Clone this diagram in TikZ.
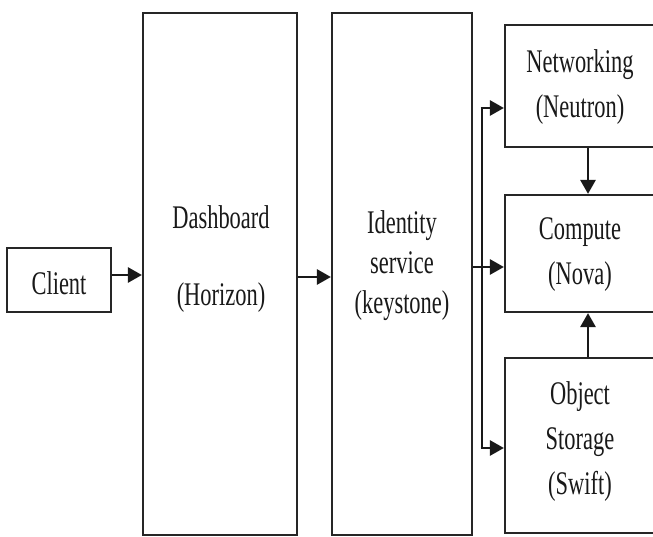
\documentclass[tikz,border=0pt]{standalone}
\usepackage{fontspec}
\setmainfont{Liberation Serif}[FakeStretch=0.68]
\usetikzlibrary{arrows.meta}
\tikzset{
  box/.style={draw=black!85, line width=2.2pt, fill=none, inner sep=0pt},
  txt/.style={align=center, font=\fontsize{33}{40}\selectfont, inner sep=0pt, text=black!90},
  conn/.style={draw=black!90, line width=2.8pt},
  arr/.style={conn, -{Triangle[length=14pt,width=15pt]}},
}
\begin{document}
\begin{tikzpicture}[x=1pt,y=-1pt]
\useasboundingbox (0,0) rectangle (653,537);
\fill[white] (0,0) rectangle (653,537);
\clip (0,0) rectangle (653,537);
% boxes
\node[box, minimum width=104pt, minimum height=64pt] (cli) at (59,280) {};
\node[box, minimum width=154pt, minimum height=522pt] (dash) at (220,274) {};
\node[box, minimum width=140pt, minimum height=522pt] (ids) at (402,274) {};
\node[box, minimum width=151pt, minimum height=122pt] (net) at (580.5,86) {};
\node[box, minimum width=151pt, minimum height=117pt] (cmp) at (580.5,253.5) {};
\node[box, minimum width=151pt, minimum height=175pt] (obj) at (580.5,445.5) {};
% texts
\node[txt] (tcli) at (59,283) {Client};
\node[txt] (tdash1) at (221,217) {Dashboard};
\node[txt] (tdash2) at (221,298) {(Horizon)};
\node[txt] (tids) at (402,266) {Identity\\service\\(keystone)};
\node[txt, font=\fontsize{33}{45}\selectfont] (tnet) at (580,87) {Networking\\(Neutron)};
\node[txt, font=\fontsize{33}{45}\selectfont] (tcmp) at (580,255) {Compute\\(Nova)};
\node[txt, font=\fontsize{33}{45}\selectfont] (tobj) at (580,442) {Object\\Storage\\(Swift)};
% connectors
\coordinate (c1) at (111,275);
\coordinate (c2) at (297,277);
\coordinate (c3) at (472,267);
\coordinate (busT) at (482,108);
\coordinate (busB) at (482,448);
\coordinate (nc) at (588,147);
\coordinate (oc) at (588,358);
\draw[arr] (cli.east |- c1) -- (dash.west |- c1);
\draw[arr] (dash.east |- c2) -- (ids.west |- c2);
\draw[arr] (ids.east |- c3) -- (cmp.west |- c3);
\draw[conn] (busT) -- (busB);
\draw[arr] ([xshift=-1.4pt]busT) -- (net.west |- busT);
\draw[arr] ([xshift=-1.4pt]busB) -- (obj.west |- busB);
\draw[arr] (net.south -| nc) -- (cmp.north -| nc);
\draw[arr] (obj.north -| oc) -- (cmp.south -| oc);
\end{tikzpicture}
\end{document}
